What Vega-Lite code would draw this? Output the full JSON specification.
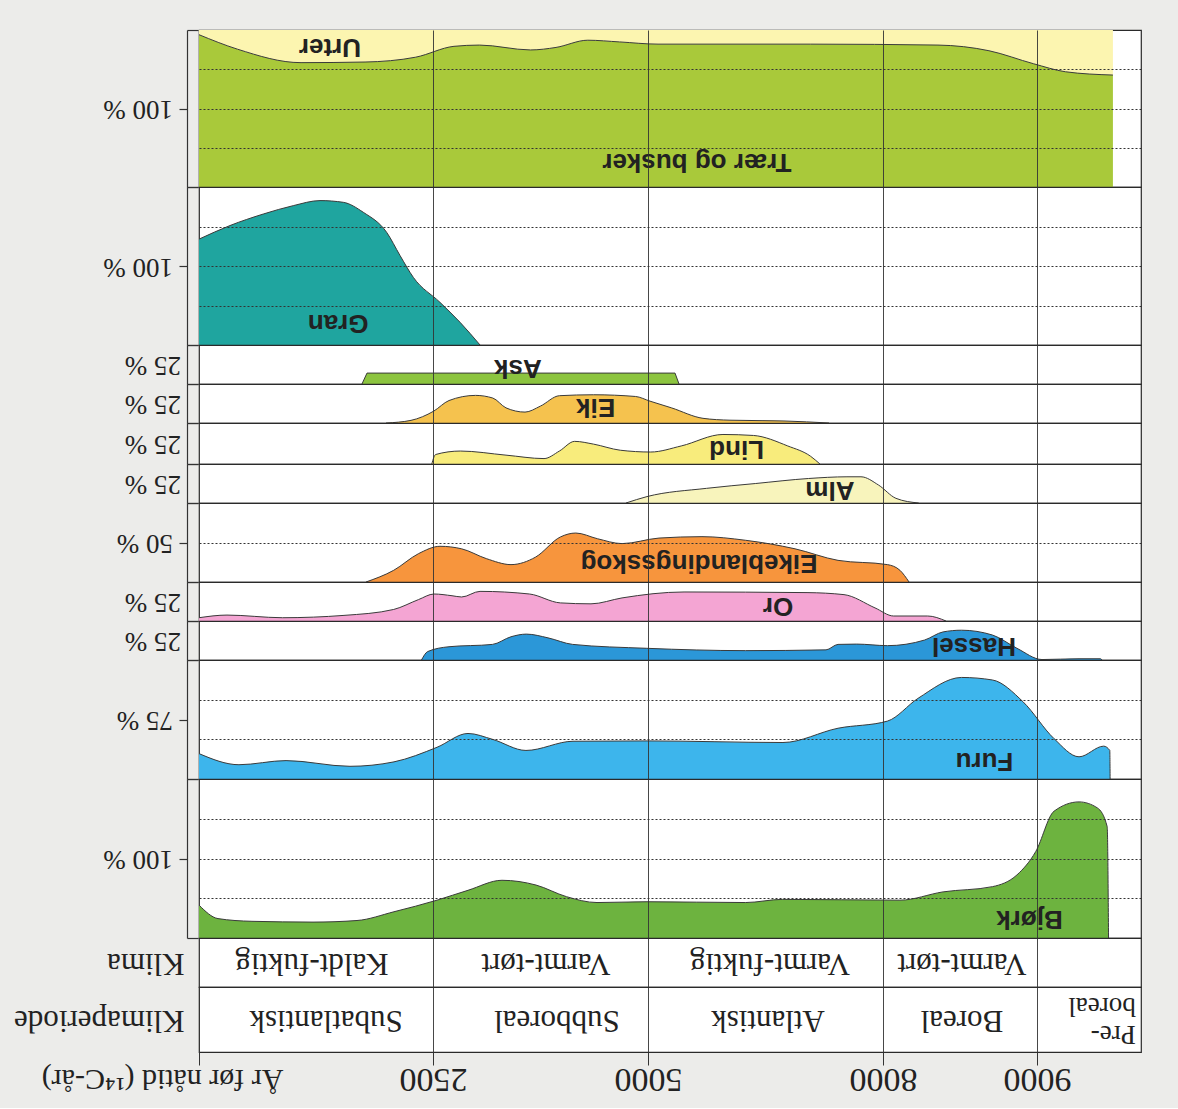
{
  "$schema": "https://vega.github.io/schema/vega-lite/v6.json",
  "background": "#ececea",
  "padding": {"top": 28, "left": 12, "right": 37, "bottom": 12},
  "spacing": 0,
  "bounds": "flush",
  "datasets": {
    "pollen": [
      {"taxon": "Trær og busker", "year": 0, "pct": 97},
      {"taxon": "Trær og busker", "year": 410, "pct": 87.8},
      {"taxon": "Trær og busker", "year": 1090, "pct": 79.2},
      {"taxon": "Trær og busker", "year": 1774, "pct": 79.6},
      {"taxon": "Trær og busker", "year": 2316, "pct": 82.7},
      {"taxon": "Trær og busker", "year": 2744, "pct": 89.6},
      {"taxon": "Trær og busker", "year": 3041, "pct": 90.4},
      {"taxon": "Trær og busker", "year": 3634, "pct": 87.3},
      {"taxon": "Trær og busker", "year": 3930, "pct": 88.9},
      {"taxon": "Trær og busker", "year": 4300, "pct": 93.5},
      {"taxon": "Trær og busker", "year": 4670, "pct": 92.4},
      {"taxon": "Trær og busker", "year": 5128, "pct": 91},
      {"taxon": "Trær og busker", "year": 7077, "pct": 91},
      {"taxon": "Trær og busker", "year": 8357, "pct": 90.4},
      {"taxon": "Trær og busker", "year": 8688, "pct": 86.8},
      {"taxon": "Trær og busker", "year": 8978, "pct": 78.5},
      {"taxon": "Trær og busker", "year": 9274, "pct": 73.4},
      {"taxon": "Trær og busker", "year": 9730, "pct": 71.3},

      {"taxon": "Gran", "year": 0, "pct": 67},
      {"taxon": "Gran", "year": 331, "pct": 75.6},
      {"taxon": "Gran", "year": 687, "pct": 82.9},
      {"taxon": "Gran", "year": 1007, "pct": 88.2},
      {"taxon": "Gran", "year": 1293, "pct": 91.4},
      {"taxon": "Gran", "year": 1542, "pct": 90.3},
      {"taxon": "Gran", "year": 1755, "pct": 84},
      {"taxon": "Gran", "year": 2005, "pct": 71.3},
      {"taxon": "Gran", "year": 2148, "pct": 56.6},
      {"taxon": "Gran", "year": 2290, "pct": 42.8},
      {"taxon": "Gran", "year": 2581, "pct": 27},
      {"taxon": "Gran", "year": 2814, "pct": 14.4},
      {"taxon": "Gran", "year": 3047, "pct": 0},

      {"taxon": "Ask", "year": 1741, "pct": 0},
      {"taxon": "Ask", "year": 1795, "pct": 7},
      {"taxon": "Ask", "year": 5345, "pct": 7},
      {"taxon": "Ask", "year": 5396, "pct": 0},

      {"taxon": "Eik", "year": 1998, "pct": 0},
      {"taxon": "Eik", "year": 2265, "pct": 1.7},
      {"taxon": "Eik", "year": 2508, "pct": 7.6},
      {"taxon": "Eik", "year": 2686, "pct": 14.4},
      {"taxon": "Eik", "year": 2995, "pct": 17.7},
      {"taxon": "Eik", "year": 3195, "pct": 16},
      {"taxon": "Eik", "year": 3349, "pct": 9.7},
      {"taxon": "Eik", "year": 3570, "pct": 7},
      {"taxon": "Eik", "year": 3748, "pct": 10.8},
      {"taxon": "Eik", "year": 3970, "pct": 17.5},
      {"taxon": "Eik", "year": 4368, "pct": 18.1},
      {"taxon": "Eik", "year": 4855, "pct": 17},
      {"taxon": "Eik", "year": 5026, "pct": 14},
      {"taxon": "Eik", "year": 5300, "pct": 9.7},
      {"taxon": "Eik", "year": 5702, "pct": 3},
      {"taxon": "Eik", "year": 6047, "pct": 1.8},
      {"taxon": "Eik", "year": 6736, "pct": 1.3},
      {"taxon": "Eik", "year": 7311, "pct": 0},

      {"taxon": "Lind", "year": 2487, "pct": 0},
      {"taxon": "Lind", "year": 2531, "pct": 5.8},
      {"taxon": "Lind", "year": 2818, "pct": 7.9},
      {"taxon": "Lind", "year": 3349, "pct": 5.4},
      {"taxon": "Lind", "year": 3791, "pct": 3.3},
      {"taxon": "Lind", "year": 3970, "pct": 7.9},
      {"taxon": "Lind", "year": 4147, "pct": 13.8},
      {"taxon": "Lind", "year": 4368, "pct": 12.1},
      {"taxon": "Lind", "year": 4678, "pct": 8.4},
      {"taxon": "Lind", "year": 5034, "pct": 7.3},
      {"taxon": "Lind", "year": 5424, "pct": 11},
      {"taxon": "Lind", "year": 5957, "pct": 18},
      {"taxon": "Lind", "year": 6347, "pct": 17.4},
      {"taxon": "Lind", "year": 6784, "pct": 11},
      {"taxon": "Lind", "year": 7076, "pct": 4.7},
      {"taxon": "Lind", "year": 7195, "pct": 0},

      {"taxon": "Alm", "year": 4744, "pct": 0},
      {"taxon": "Alm", "year": 4988, "pct": 4.1},
      {"taxon": "Alm", "year": 5748, "pct": 9.4},
      {"taxon": "Alm", "year": 6375, "pct": 12.5},
      {"taxon": "Alm", "year": 7048, "pct": 15.7},
      {"taxon": "Alm", "year": 7540, "pct": 16.8},
      {"taxon": "Alm", "year": 7719, "pct": 16.8},
      {"taxon": "Alm", "year": 7943, "pct": 11.5},
      {"taxon": "Alm", "year": 8084, "pct": 3},
      {"taxon": "Alm", "year": 8232, "pct": 0},

      {"taxon": "Eikeblandingsskog", "year": 1784, "pct": 0},
      {"taxon": "Eikeblandingsskog", "year": 2080, "pct": 7.4},
      {"taxon": "Eikeblandingsskog", "year": 2344, "pct": 17.9},
      {"taxon": "Eikeblandingsskog", "year": 2581, "pct": 22.6},
      {"taxon": "Eikeblandingsskog", "year": 2833, "pct": 21},
      {"taxon": "Eikeblandingsskog", "year": 3120, "pct": 14.8},
      {"taxon": "Eikeblandingsskog", "year": 3407, "pct": 11},
      {"taxon": "Eikeblandingsskog", "year": 3694, "pct": 15.8},
      {"taxon": "Eikeblandingsskog", "year": 3981, "pct": 28.5},
      {"taxon": "Eikeblandingsskog", "year": 4160, "pct": 31},
      {"taxon": "Eikeblandingsskog", "year": 4412, "pct": 27.4},
      {"taxon": "Eikeblandingsskog", "year": 4698, "pct": 24.3},
      {"taxon": "Eikeblandingsskog", "year": 5140, "pct": 27.8},
      {"taxon": "Eikeblandingsskog", "year": 5689, "pct": 28.7},
      {"taxon": "Eikeblandingsskog", "year": 6246, "pct": 26.4},
      {"taxon": "Eikeblandingsskog", "year": 6877, "pct": 21},
      {"taxon": "Eikeblandingsskog", "year": 7426, "pct": 13.7},
      {"taxon": "Eikeblandingsskog", "year": 8029, "pct": 11},
      {"taxon": "Eikeblandingsskog", "year": 8110, "pct": 7.4},
      {"taxon": "Eikeblandingsskog", "year": 8169, "pct": 0},

      {"taxon": "Or", "year": 0, "pct": 2.1},
      {"taxon": "Or", "year": 299, "pct": 3.8},
      {"taxon": "Or", "year": 893, "pct": 2.1},
      {"taxon": "Or", "year": 1549, "pct": 3.6},
      {"taxon": "Or", "year": 2080, "pct": 7.4},
      {"taxon": "Or", "year": 2344, "pct": 13.7},
      {"taxon": "Or", "year": 2512, "pct": 17.3},
      {"taxon": "Or", "year": 2721, "pct": 16.2},
      {"taxon": "Or", "year": 2833, "pct": 15.4},
      {"taxon": "Or", "year": 3047, "pct": 19},
      {"taxon": "Or", "year": 3622, "pct": 17.3},
      {"taxon": "Or", "year": 3981, "pct": 11.6},
      {"taxon": "Or", "year": 4337, "pct": 11},
      {"taxon": "Or", "year": 4698, "pct": 14.8},
      {"taxon": "Or", "year": 5460, "pct": 18.6},
      {"taxon": "Or", "year": 7030, "pct": 18.2},
      {"taxon": "Or", "year": 7502, "pct": 16.9},
      {"taxon": "Or", "year": 7898, "pct": 8.4},
      {"taxon": "Or", "year": 8069, "pct": 3.2},
      {"taxon": "Or", "year": 8290, "pct": 3.2},
      {"taxon": "Or", "year": 8409, "pct": 0},

      {"taxon": "Hassel", "year": 2377, "pct": 0},
      {"taxon": "Hassel", "year": 2443, "pct": 5.4},
      {"taxon": "Hassel", "year": 2686, "pct": 8.5},
      {"taxon": "Hassel", "year": 3192, "pct": 10},
      {"taxon": "Hassel", "year": 3407, "pct": 14.9},
      {"taxon": "Hassel", "year": 3586, "pct": 16.6},
      {"taxon": "Hassel", "year": 3837, "pct": 14.2},
      {"taxon": "Hassel", "year": 4124, "pct": 10},
      {"taxon": "Hassel", "year": 4986, "pct": 7.5},
      {"taxon": "Hassel", "year": 6246, "pct": 6},
      {"taxon": "Hassel", "year": 7272, "pct": 6.5},
      {"taxon": "Hassel", "year": 7426, "pct": 10},
      {"taxon": "Hassel", "year": 7664, "pct": 10.2},
      {"taxon": "Hassel", "year": 8029, "pct": 9.2},
      {"taxon": "Hassel", "year": 8270, "pct": 12.8},
      {"taxon": "Hassel", "year": 8390, "pct": 18},
      {"taxon": "Hassel", "year": 8510, "pct": 19.1},
      {"taxon": "Hassel", "year": 8711, "pct": 16},
      {"taxon": "Hassel", "year": 8870, "pct": 7.5},
      {"taxon": "Hassel", "year": 9048, "pct": 0.3},
      {"taxon": "Hassel", "year": 9404, "pct": 0.8},
      {"taxon": "Hassel", "year": 9611, "pct": 0.8},
      {"taxon": "Hassel", "year": 9625, "pct": 0},

      {"taxon": "Furu", "year": 0, "pct": 16},
      {"taxon": "Furu", "year": 427, "pct": 9},
      {"taxon": "Furu", "year": 930, "pct": 11.6},
      {"taxon": "Furu", "year": 1613, "pct": 8},
      {"taxon": "Furu", "year": 2083, "pct": 10.8},
      {"taxon": "Furu", "year": 2547, "pct": 20},
      {"taxon": "Furu", "year": 2907, "pct": 28.7},
      {"taxon": "Furu", "year": 3192, "pct": 25},
      {"taxon": "Furu", "year": 3581, "pct": 18},
      {"taxon": "Furu", "year": 4128, "pct": 23.8},
      {"taxon": "Furu", "year": 4988, "pct": 24},
      {"taxon": "Furu", "year": 6723, "pct": 23},
      {"taxon": "Furu", "year": 7426, "pct": 32},
      {"taxon": "Furu", "year": 8029, "pct": 36.5},
      {"taxon": "Furu", "year": 8227, "pct": 50.8},
      {"taxon": "Furu", "year": 8510, "pct": 64},
      {"taxon": "Furu", "year": 8711, "pct": 62.4},
      {"taxon": "Furu", "year": 8909, "pct": 48.7},
      {"taxon": "Furu", "year": 9163, "pct": 25.5},
      {"taxon": "Furu", "year": 9404, "pct": 14},
      {"taxon": "Furu", "year": 9641, "pct": 20.7},
      {"taxon": "Furu", "year": 9700, "pct": 18},
      {"taxon": "Furu", "year": 9703, "pct": 0},

      {"taxon": "Bjørk", "year": 0, "pct": 20.7},
      {"taxon": "Bjørk", "year": 203, "pct": 12.2},
      {"taxon": "Bjørk", "year": 566, "pct": 10.5},
      {"taxon": "Bjørk", "year": 1218, "pct": 10},
      {"taxon": "Bjørk", "year": 1688, "pct": 11},
      {"taxon": "Bjørk", "year": 2083, "pct": 16.5},
      {"taxon": "Bjørk", "year": 2547, "pct": 23.8},
      {"taxon": "Bjørk", "year": 2907, "pct": 30},
      {"taxon": "Bjørk", "year": 3302, "pct": 36.3},
      {"taxon": "Bjørk", "year": 3698, "pct": 33.3},
      {"taxon": "Bjørk", "year": 4052, "pct": 26},
      {"taxon": "Bjørk", "year": 4407, "pct": 22.3},
      {"taxon": "Bjørk", "year": 4988, "pct": 22.8},
      {"taxon": "Bjørk", "year": 6246, "pct": 22.3},
      {"taxon": "Bjørk", "year": 6718, "pct": 24.3},
      {"taxon": "Bjørk", "year": 8110, "pct": 23.8},
      {"taxon": "Bjørk", "year": 8390, "pct": 29},
      {"taxon": "Bjørk", "year": 8711, "pct": 32.3},
      {"taxon": "Bjørk", "year": 8870, "pct": 39.7},
      {"taxon": "Bjørk", "year": 8992, "pct": 54.4},
      {"taxon": "Bjørk", "year": 9163, "pct": 79.7},
      {"taxon": "Bjørk", "year": 9404, "pct": 85.6},
      {"taxon": "Bjørk", "year": 9581, "pct": 81.8},
      {"taxon": "Bjørk", "year": 9675, "pct": 70},
      {"taxon": "Bjørk", "year": 9688, "pct": 0}
    ],
    "labels": [
      {"taxon": "Trær og busker", "name": "Urter", "year": 1400, "pct": 89},
      {"taxon": "Trær og busker", "name": "Trær og busker", "year": 5625, "pct": 16},
      {"taxon": "Gran", "name": "Gran", "year": 1487, "pct": 13.7},
      {"taxon": "Ask", "name": "Ask", "year": 3488, "pct": 10.1},
      {"taxon": "Eik", "name": "Eik", "year": 4391, "pct": 10.1},
      {"taxon": "Lind", "name": "Lind", "year": 6131, "pct": 9.2},
      {"taxon": "Alm", "name": "Alm", "year": 7323, "pct": 8.5},
      {"taxon": "Eikeblandingsskog", "name": "Eikeblandingsskog", "year": 5651, "pct": 12},
      {"taxon": "Or", "name": "Or", "year": 6660, "pct": 9.5},
      {"taxon": "Hassel", "name": "Hassel", "year": 8591, "pct": 9.2},
      {"taxon": "Furu", "name": "Furu", "year": 8659, "pct": 11.4},
      {"taxon": "Bjørk", "name": "Bjørk", "year": 8951, "pct": 12.2}
    ],
    "klima": [
      {"row": "Klima", "label": "Kaldt-fuktig", "year": 1207},
      {"row": "Klima", "label": "Varmt-tørt", "year": 3814},
      {"row": "Klima", "label": "Varmt-fuktig", "year": 6557},
      {"row": "Klima", "label": "Varmt-tørt", "year": 8512}
    ],
    "periode": [
      {"row": "Klimaperiode", "label": "Subatlantisk", "year": 1357},
      {"row": "Klimaperiode", "label": "Subboreal", "year": 3942},
      {"row": "Klimaperiode", "label": "Atlantisk", "year": 6532},
      {"row": "Klimaperiode", "label": "Boreal", "year": 8512}
    ],
    "preboreal": [
      {"row": "Klimaperiode", "label": "Pre-\nboreal", "year": 9950}
    ]
  },
  "vconcat": [
    {
      "width": 942, "height": 157,
      "resolve": {"scale": {"y": "independent"}, "axis": {"y": "independent"}},
      "layer": [
        {"data": {"name": "pollen"}, "transform": [{"filter": "datum.taxon == 'Trær og busker'"}],
         "mark": {"type": "area", "interpolate": "monotone", "color": "#fcf5b0", "opacity": 1},
         "encoding": {
           "x": {"field": "year", "type": "quantitative", "scale": {"domain": [0, 2500, 5000, 8000, 9000, 10000], "range": [0, 234, 449, 684, 838, 942], "nice": false, "zero": false},
                 "axis": {"title": null, "labels": false, "ticks": false, "domain": false, "grid": true, "values": [2500, 5000, 8000, 9000], "gridColor": "#333", "gridWidth": 0.9, "zindex": 1}},
           "y": {"field": "pct", "type": "quantitative", "scale": {"domain": [0, 100], "nice": false},
                 "axis": {"title": "100 %", "values": [0, 50, 100], "labels": false, "grid": false, "offset": 12, "domain": true, "domainColor": "#333", "domainWidth": 1.2, "ticks": true, "tickColor": "#333", "tickWidth": 1.2,
                          "tickSize": {"condition": {"test": "datum.value == 50", "value": 8}, "value": -11},
                          "titleAngle": 180, "titleAlign": "left", "titleBaseline": "middle", "titleFont": "Liberation Serif", "titleFontSize": 27, "titleFontWeight": "normal", "titleColor": "#222", "titlePadding": 6, "zindex": 1}},
           "y2": {"datum": 100}
         }},
        {"data": {"name": "pollen"}, "transform": [{"filter": "datum.taxon == 'Trær og busker'"}],
         "mark": {"type": "area", "interpolate": "monotone", "color": "#a9c93a", "opacity": 1, "line": {"color": "#3a3a3a", "strokeWidth": 1}},
         "encoding": {"x": {"field": "year", "type": "quantitative"}, "y": {"field": "pct", "type": "quantitative", "scale": {"domain": [0, 100], "nice": false}, "axis": null}}},
        {"data": {"name": "labels"}, "transform": [{"filter": "datum.taxon == 'Trær og busker'"}],
         "mark": {"type": "text", "angle": 180, "font": "Liberation Sans", "fontWeight": "bold", "fontSize": 26, "color": "#222"},
         "encoding": {"x": {"field": "year", "type": "quantitative"}, "text": {"field": "name"},
                      "y": {"field": "pct", "type": "quantitative", "scale": {"domain": [0, 100], "nice": false},
                            "axis": {"orient": "right", "title": null, "labels": false, "ticks": false, "domain": false, "grid": true, "values": [25, 50, 75], "gridColor": "#333", "gridDash": [2, 2], "gridWidth": 1, "zindex": 1}}}}
      ]
    },
    {
      "width": 942, "height": 158,
      "resolve": {"scale": {"y": "independent"}, "axis": {"y": "independent"}},
      "layer": [
        {"data": {"name": "pollen"}, "transform": [{"filter": "datum.taxon == 'Gran'"}],
         "mark": {"type": "area", "interpolate": "monotone", "color": "#1fa59f", "opacity": 1, "line": {"color": "#3a3a3a", "strokeWidth": 1}},
         "encoding": {
           "x": {"field": "year", "type": "quantitative", "scale": {"domain": [0, 2500, 5000, 8000, 9000, 10000], "range": [0, 234, 449, 684, 838, 942], "nice": false, "zero": false},
                 "axis": {"title": null, "labels": false, "ticks": false, "domain": false, "grid": true, "values": [2500, 5000, 8000, 9000], "gridColor": "#333", "gridWidth": 0.9, "zindex": 1}},
           "y": {"field": "pct", "type": "quantitative", "scale": {"domain": [0, 100], "nice": false},
                 "axis": {"title": "100 %", "values": [0, 50, 100], "labels": false, "grid": false, "offset": 12, "domain": true, "domainColor": "#333", "domainWidth": 1.2, "ticks": true, "tickColor": "#333", "tickWidth": 1.2,
                          "tickSize": {"condition": {"test": "datum.value == 50", "value": 8}, "value": -11},
                          "titleAngle": 180, "titleAlign": "left", "titleBaseline": "middle", "titleFont": "Liberation Serif", "titleFontSize": 27, "titleFontWeight": "normal", "titleColor": "#222", "titlePadding": 6, "zindex": 1}}
         }},
        {"data": {"name": "labels"}, "transform": [{"filter": "datum.taxon == 'Gran'"}],
         "mark": {"type": "text", "angle": 180, "font": "Liberation Sans", "fontWeight": "bold", "fontSize": 26, "color": "#222"},
         "encoding": {"x": {"field": "year", "type": "quantitative"}, "text": {"field": "name"},
                      "y": {"field": "pct", "type": "quantitative", "scale": {"domain": [0, 100], "nice": false},
                            "axis": {"orient": "right", "title": null, "labels": false, "ticks": false, "domain": false, "grid": true, "values": [25, 50, 75], "gridColor": "#333", "gridDash": [2, 2], "gridWidth": 1, "zindex": 1}}}}
      ]
    },
    {
      "width": 942, "height": 39,
      "layer": [
        {"data": {"name": "pollen"}, "transform": [{"filter": "datum.taxon == 'Ask'"}],
         "mark": {"type": "area", "interpolate": "linear", "color": "#8cc43f", "opacity": 1, "line": {"color": "#3a3a3a", "strokeWidth": 1}},
         "encoding": {
           "x": {"field": "year", "type": "quantitative", "scale": {"domain": [0, 2500, 5000, 8000, 9000, 10000], "range": [0, 234, 449, 684, 838, 942], "nice": false, "zero": false},
                 "axis": {"title": null, "labels": false, "ticks": false, "domain": false, "grid": true, "values": [2500, 5000, 8000, 9000], "gridColor": "#333", "gridWidth": 0.9, "zindex": 1}},
           "y": {"field": "pct", "type": "quantitative", "scale": {"domain": [0, 25], "nice": false},
                 "axis": {"title": "25 %", "values": [0, 12.5, 25], "labels": false, "grid": false, "offset": 12, "domain": true, "domainColor": "#333", "domainWidth": 1.2, "ticks": true, "tickColor": "#333", "tickWidth": 1.2,
                          "tickSize": {"condition": {"test": "datum.value == 12.5", "value": 8}, "value": -11},
                          "titleAngle": 180, "titleAlign": "left", "titleBaseline": "middle", "titleFont": "Liberation Serif", "titleFontSize": 27, "titleFontWeight": "normal", "titleColor": "#222", "titlePadding": 6, "zindex": 1}}
         }},
        {"data": {"name": "labels"}, "transform": [{"filter": "datum.taxon == 'Ask'"}],
         "mark": {"type": "text", "angle": 180, "font": "Liberation Sans", "fontWeight": "bold", "fontSize": 26, "color": "#222"},
         "encoding": {"x": {"field": "year", "type": "quantitative"}, "y": {"field": "pct", "type": "quantitative"}, "text": {"field": "name"}}}
      ]
    },
    {
      "width": 942, "height": 39,
      "layer": [
        {"data": {"name": "pollen"}, "transform": [{"filter": "datum.taxon == 'Eik'"}],
         "mark": {"type": "area", "interpolate": "monotone", "color": "#f5c24e", "opacity": 1, "line": {"color": "#3a3a3a", "strokeWidth": 1}},
         "encoding": {
           "x": {"field": "year", "type": "quantitative", "scale": {"domain": [0, 2500, 5000, 8000, 9000, 10000], "range": [0, 234, 449, 684, 838, 942], "nice": false, "zero": false},
                 "axis": {"title": null, "labels": false, "ticks": false, "domain": false, "grid": true, "values": [2500, 5000, 8000, 9000], "gridColor": "#333", "gridWidth": 0.9, "zindex": 1}},
           "y": {"field": "pct", "type": "quantitative", "scale": {"domain": [0, 25], "nice": false},
                 "axis": {"title": "25 %", "values": [0, 12.5, 25], "labels": false, "grid": false, "offset": 12, "domain": true, "domainColor": "#333", "domainWidth": 1.2, "ticks": true, "tickColor": "#333", "tickWidth": 1.2,
                          "tickSize": {"condition": {"test": "datum.value == 12.5", "value": 8}, "value": -11},
                          "titleAngle": 180, "titleAlign": "left", "titleBaseline": "middle", "titleFont": "Liberation Serif", "titleFontSize": 27, "titleFontWeight": "normal", "titleColor": "#222", "titlePadding": 6, "zindex": 1}}
         }},
        {"data": {"name": "labels"}, "transform": [{"filter": "datum.taxon == 'Eik'"}],
         "mark": {"type": "text", "angle": 180, "font": "Liberation Sans", "fontWeight": "bold", "fontSize": 26, "color": "#222"},
         "encoding": {"x": {"field": "year", "type": "quantitative"}, "y": {"field": "pct", "type": "quantitative"}, "text": {"field": "name"}}}
      ]
    },
    {
      "width": 942, "height": 41,
      "layer": [
        {"data": {"name": "pollen"}, "transform": [{"filter": "datum.taxon == 'Lind'"}],
         "mark": {"type": "area", "interpolate": "monotone", "color": "#f8ec7c", "opacity": 1, "line": {"color": "#3a3a3a", "strokeWidth": 1}},
         "encoding": {
           "x": {"field": "year", "type": "quantitative", "scale": {"domain": [0, 2500, 5000, 8000, 9000, 10000], "range": [0, 234, 449, 684, 838, 942], "nice": false, "zero": false},
                 "axis": {"title": null, "labels": false, "ticks": false, "domain": false, "grid": true, "values": [2500, 5000, 8000, 9000], "gridColor": "#333", "gridWidth": 0.9, "zindex": 1}},
           "y": {"field": "pct", "type": "quantitative", "scale": {"domain": [0, 25], "nice": false},
                 "axis": {"title": "25 %", "values": [0, 12.5, 25], "labels": false, "grid": false, "offset": 12, "domain": true, "domainColor": "#333", "domainWidth": 1.2, "ticks": true, "tickColor": "#333", "tickWidth": 1.2,
                          "tickSize": {"condition": {"test": "datum.value == 12.5", "value": 8}, "value": -11},
                          "titleAngle": 180, "titleAlign": "left", "titleBaseline": "middle", "titleFont": "Liberation Serif", "titleFontSize": 27, "titleFontWeight": "normal", "titleColor": "#222", "titlePadding": 6, "zindex": 1}}
         }},
        {"data": {"name": "labels"}, "transform": [{"filter": "datum.taxon == 'Lind'"}],
         "mark": {"type": "text", "angle": 180, "font": "Liberation Sans", "fontWeight": "bold", "fontSize": 26, "color": "#222"},
         "encoding": {"x": {"field": "year", "type": "quantitative"}, "y": {"field": "pct", "type": "quantitative"}, "text": {"field": "name"}}}
      ]
    },
    {
      "width": 942, "height": 39,
      "layer": [
        {"data": {"name": "pollen"}, "transform": [{"filter": "datum.taxon == 'Alm'"}],
         "mark": {"type": "area", "interpolate": "monotone", "color": "#f8f4bc", "opacity": 1, "line": {"color": "#3a3a3a", "strokeWidth": 1}},
         "encoding": {
           "x": {"field": "year", "type": "quantitative", "scale": {"domain": [0, 2500, 5000, 8000, 9000, 10000], "range": [0, 234, 449, 684, 838, 942], "nice": false, "zero": false},
                 "axis": {"title": null, "labels": false, "ticks": false, "domain": false, "grid": true, "values": [2500, 5000, 8000, 9000], "gridColor": "#333", "gridWidth": 0.9, "zindex": 1}},
           "y": {"field": "pct", "type": "quantitative", "scale": {"domain": [0, 25], "nice": false},
                 "axis": {"title": "25 %", "values": [0, 12.5, 25], "labels": false, "grid": false, "offset": 12, "domain": true, "domainColor": "#333", "domainWidth": 1.2, "ticks": true, "tickColor": "#333", "tickWidth": 1.2,
                          "tickSize": {"condition": {"test": "datum.value == 12.5", "value": 8}, "value": -11},
                          "titleAngle": 180, "titleAlign": "left", "titleBaseline": "middle", "titleFont": "Liberation Serif", "titleFontSize": 27, "titleFontWeight": "normal", "titleColor": "#222", "titlePadding": 6, "zindex": 1}}
         }},
        {"data": {"name": "labels"}, "transform": [{"filter": "datum.taxon == 'Alm'"}],
         "mark": {"type": "text", "angle": 180, "font": "Liberation Sans", "fontWeight": "bold", "fontSize": 26, "color": "#222"},
         "encoding": {"x": {"field": "year", "type": "quantitative"}, "y": {"field": "pct", "type": "quantitative"}, "text": {"field": "name"}}}
      ]
    },
    {
      "width": 942, "height": 79,
      "resolve": {"scale": {"y": "independent"}, "axis": {"y": "independent"}},
      "layer": [
        {"data": {"name": "pollen"}, "transform": [{"filter": "datum.taxon == 'Eikeblandingsskog'"}],
         "mark": {"type": "area", "interpolate": "monotone", "color": "#f7953d", "opacity": 1, "line": {"color": "#3a3a3a", "strokeWidth": 1}},
         "encoding": {
           "x": {"field": "year", "type": "quantitative", "scale": {"domain": [0, 2500, 5000, 8000, 9000, 10000], "range": [0, 234, 449, 684, 838, 942], "nice": false, "zero": false},
                 "axis": {"title": null, "labels": false, "ticks": false, "domain": false, "grid": true, "values": [2500, 5000, 8000, 9000], "gridColor": "#333", "gridWidth": 0.9, "zindex": 1}},
           "y": {"field": "pct", "type": "quantitative", "scale": {"domain": [0, 50], "nice": false},
                 "axis": {"title": "50 %", "values": [0, 25, 50], "labels": false, "grid": false, "offset": 12, "domain": true, "domainColor": "#333", "domainWidth": 1.2, "ticks": true, "tickColor": "#333", "tickWidth": 1.2,
                          "tickSize": {"condition": {"test": "datum.value == 25", "value": 8}, "value": -11},
                          "titleAngle": 180, "titleAlign": "left", "titleBaseline": "middle", "titleFont": "Liberation Serif", "titleFontSize": 27, "titleFontWeight": "normal", "titleColor": "#222", "titlePadding": 6, "zindex": 1}}
         }},
        {"data": {"name": "labels"}, "transform": [{"filter": "datum.taxon == 'Eikeblandingsskog'"}],
         "mark": {"type": "text", "angle": 180, "font": "Liberation Sans", "fontWeight": "bold", "fontSize": 26, "color": "#222"},
         "encoding": {"x": {"field": "year", "type": "quantitative"}, "text": {"field": "name"},
                      "y": {"field": "pct", "type": "quantitative", "scale": {"domain": [0, 50], "nice": false},
                            "axis": {"orient": "right", "title": null, "labels": false, "ticks": false, "domain": false, "grid": true, "values": [25], "gridColor": "#333", "gridDash": [2, 2], "gridWidth": 1, "zindex": 1}}}}
      ]
    },
    {
      "width": 942, "height": 39,
      "layer": [
        {"data": {"name": "pollen"}, "transform": [{"filter": "datum.taxon == 'Or'"}],
         "mark": {"type": "area", "interpolate": "monotone", "color": "#f4a5d3", "opacity": 1, "line": {"color": "#3a3a3a", "strokeWidth": 1}},
         "encoding": {
           "x": {"field": "year", "type": "quantitative", "scale": {"domain": [0, 2500, 5000, 8000, 9000, 10000], "range": [0, 234, 449, 684, 838, 942], "nice": false, "zero": false},
                 "axis": {"title": null, "labels": false, "ticks": false, "domain": false, "grid": true, "values": [2500, 5000, 8000, 9000], "gridColor": "#333", "gridWidth": 0.9, "zindex": 1}},
           "y": {"field": "pct", "type": "quantitative", "scale": {"domain": [0, 25], "nice": false},
                 "axis": {"title": "25 %", "values": [0, 12.5, 25], "labels": false, "grid": false, "offset": 12, "domain": true, "domainColor": "#333", "domainWidth": 1.2, "ticks": true, "tickColor": "#333", "tickWidth": 1.2,
                          "tickSize": {"condition": {"test": "datum.value == 12.5", "value": 8}, "value": -11},
                          "titleAngle": 180, "titleAlign": "left", "titleBaseline": "middle", "titleFont": "Liberation Serif", "titleFontSize": 27, "titleFontWeight": "normal", "titleColor": "#222", "titlePadding": 6, "zindex": 1}}
         }},
        {"data": {"name": "labels"}, "transform": [{"filter": "datum.taxon == 'Or'"}],
         "mark": {"type": "text", "angle": 180, "font": "Liberation Sans", "fontWeight": "bold", "fontSize": 26, "color": "#222"},
         "encoding": {"x": {"field": "year", "type": "quantitative"}, "y": {"field": "pct", "type": "quantitative"}, "text": {"field": "name"}}}
      ]
    },
    {
      "width": 942, "height": 39,
      "layer": [
        {"data": {"name": "pollen"}, "transform": [{"filter": "datum.taxon == 'Hassel'"}],
         "mark": {"type": "area", "interpolate": "monotone", "color": "#2b97d8", "opacity": 1, "line": {"color": "#3a3a3a", "strokeWidth": 1}},
         "encoding": {
           "x": {"field": "year", "type": "quantitative", "scale": {"domain": [0, 2500, 5000, 8000, 9000, 10000], "range": [0, 234, 449, 684, 838, 942], "nice": false, "zero": false},
                 "axis": {"title": null, "labels": false, "ticks": false, "domain": false, "grid": true, "values": [2500, 5000, 8000, 9000], "gridColor": "#333", "gridWidth": 0.9, "zindex": 1}},
           "y": {"field": "pct", "type": "quantitative", "scale": {"domain": [0, 25], "nice": false},
                 "axis": {"title": "25 %", "values": [0, 12.5, 25], "labels": false, "grid": false, "offset": 12, "domain": true, "domainColor": "#333", "domainWidth": 1.2, "ticks": true, "tickColor": "#333", "tickWidth": 1.2,
                          "tickSize": {"condition": {"test": "datum.value == 12.5", "value": 8}, "value": -11},
                          "titleAngle": 180, "titleAlign": "left", "titleBaseline": "middle", "titleFont": "Liberation Serif", "titleFontSize": 27, "titleFontWeight": "normal", "titleColor": "#222", "titlePadding": 6, "zindex": 1}}
         }},
        {"data": {"name": "labels"}, "transform": [{"filter": "datum.taxon == 'Hassel'"}],
         "mark": {"type": "text", "angle": 180, "font": "Liberation Sans", "fontWeight": "bold", "fontSize": 26, "color": "#222"},
         "encoding": {"x": {"field": "year", "type": "quantitative"}, "y": {"field": "pct", "type": "quantitative"}, "text": {"field": "name"}}}
      ]
    },
    {
      "width": 942, "height": 119,
      "resolve": {"scale": {"y": "independent"}, "axis": {"y": "independent"}},
      "layer": [
        {"data": {"name": "pollen"}, "transform": [{"filter": "datum.taxon == 'Furu'"}],
         "mark": {"type": "area", "interpolate": "monotone", "color": "#3db5ec", "opacity": 1, "line": {"color": "#3a3a3a", "strokeWidth": 1}},
         "encoding": {
           "x": {"field": "year", "type": "quantitative", "scale": {"domain": [0, 2500, 5000, 8000, 9000, 10000], "range": [0, 234, 449, 684, 838, 942], "nice": false, "zero": false},
                 "axis": {"title": null, "labels": false, "ticks": false, "domain": false, "grid": true, "values": [2500, 5000, 8000, 9000], "gridColor": "#333", "gridWidth": 0.9, "zindex": 1}},
           "y": {"field": "pct", "type": "quantitative", "scale": {"domain": [0, 75], "nice": false},
                 "axis": {"title": "75 %", "values": [0, 37.5, 75], "labels": false, "grid": false, "offset": 12, "domain": true, "domainColor": "#333", "domainWidth": 1.2, "ticks": true, "tickColor": "#333", "tickWidth": 1.2,
                          "tickSize": {"condition": {"test": "datum.value == 37.5", "value": 8}, "value": -11},
                          "titleAngle": 180, "titleAlign": "left", "titleBaseline": "middle", "titleFont": "Liberation Serif", "titleFontSize": 27, "titleFontWeight": "normal", "titleColor": "#222", "titlePadding": 6, "zindex": 1}}
         }},
        {"data": {"name": "labels"}, "transform": [{"filter": "datum.taxon == 'Furu'"}],
         "mark": {"type": "text", "angle": 180, "font": "Liberation Sans", "fontWeight": "bold", "fontSize": 26, "color": "#222"},
         "encoding": {"x": {"field": "year", "type": "quantitative"}, "text": {"field": "name"},
                      "y": {"field": "pct", "type": "quantitative", "scale": {"domain": [0, 75], "nice": false},
                            "axis": {"orient": "right", "title": null, "labels": false, "ticks": false, "domain": false, "grid": true, "values": [25, 50], "gridColor": "#333", "gridDash": [2, 2], "gridWidth": 1, "zindex": 1}}}}
      ]
    },
    {
      "width": 942, "height": 159,
      "resolve": {"scale": {"y": "independent"}, "axis": {"y": "independent"}},
      "layer": [
        {"data": {"name": "pollen"}, "transform": [{"filter": "datum.taxon == 'Bjørk'"}],
         "mark": {"type": "area", "interpolate": "monotone", "color": "#6db33f", "opacity": 1, "line": {"color": "#3a3a3a", "strokeWidth": 1}},
         "encoding": {
           "x": {"field": "year", "type": "quantitative", "scale": {"domain": [0, 2500, 5000, 8000, 9000, 10000], "range": [0, 234, 449, 684, 838, 942], "nice": false, "zero": false},
                 "axis": {"title": null, "labels": false, "ticks": false, "domain": false, "grid": true, "values": [2500, 5000, 8000, 9000], "gridColor": "#333", "gridWidth": 0.9, "zindex": 1}},
           "y": {"field": "pct", "type": "quantitative", "scale": {"domain": [0, 100], "nice": false},
                 "axis": {"title": "100 %", "values": [0, 50, 100], "labels": false, "grid": false, "offset": 12, "domain": true, "domainColor": "#333", "domainWidth": 1.2, "ticks": true, "tickColor": "#333", "tickWidth": 1.2,
                          "tickSize": {"condition": {"test": "datum.value == 50", "value": 8}, "value": -11},
                          "titleAngle": 180, "titleAlign": "left", "titleBaseline": "middle", "titleFont": "Liberation Serif", "titleFontSize": 27, "titleFontWeight": "normal", "titleColor": "#222", "titlePadding": 6, "zindex": 1}}
         }},
        {"data": {"name": "labels"}, "transform": [{"filter": "datum.taxon == 'Bjørk'"}],
         "mark": {"type": "text", "angle": 180, "font": "Liberation Sans", "fontWeight": "bold", "fontSize": 26, "color": "#222"},
         "encoding": {"x": {"field": "year", "type": "quantitative"}, "text": {"field": "name"},
                      "y": {"field": "pct", "type": "quantitative", "scale": {"domain": [0, 100], "nice": false},
                            "axis": {"orient": "right", "title": null, "labels": false, "ticks": false, "domain": false, "grid": true, "values": [25, 50, 75], "gridColor": "#333", "gridDash": [2, 2], "gridWidth": 1, "zindex": 1}}}}
      ]
    },
    {
      "width": 942, "height": 49,
      "data": {"name": "klima"},
      "mark": {"type": "text", "angle": 180, "font": "Liberation Serif", "fontSize": 31, "color": "#222"},
      "encoding": {
        "x": {"field": "year", "type": "quantitative", "scale": {"domain": [0, 2500, 5000, 8000, 9000, 10000], "range": [0, 234, 449, 684, 838, 942], "nice": false, "zero": false},
              "axis": {"title": null, "labels": false, "ticks": false, "domain": false, "grid": true, "values": [2500, 5000, 8000, 9000], "gridColor": "#333", "gridWidth": 0.9, "zindex": 1}},
        "y": {"field": "row", "type": "nominal",
              "axis": {"title": null, "ticks": false, "domain": false, "labelAngle": 180, "labelAlign": "left", "labelBaseline": "middle", "labelFont": "Liberation Serif", "labelFontSize": 31, "labelColor": "#222", "labelPadding": 15}},
        "text": {"field": "label"}
      }
    },
    {
      "width": 942, "height": 65,
      "layer": [
        {"data": {"name": "periode"},
         "mark": {"type": "text", "angle": 180, "font": "Liberation Serif", "fontSize": 31, "color": "#222"},
         "encoding": {
           "x": {"field": "year", "type": "quantitative", "scale": {"domain": [0, 2500, 5000, 8000, 9000, 10000], "range": [0, 234, 449, 684, 838, 942], "nice": false, "zero": false},
                 "axis": {"title": "År før nåtid (¹⁴C-år)", "values": [0, 2500, 5000, 8000, 9000], "format": "d", "labelExpr": "datum.value == 0 ? '' : datum.label",
                          "grid": true, "gridColor": "#333", "gridWidth": 0.9, "domain": false, "ticks": true, "tickSize": 13, "tickColor": "#333",
                          "labelAngle": 180, "labelAlign": "center", "labelBaseline": "bottom", "labelPadding": -4, "labelFont": "Liberation Serif", "labelFontSize": 34, "labelColor": "#222", "labelFlush": false, "labelOverlap": false,
                          "titleAngle": 180, "titleFont": "Liberation Serif", "titleFontSize": 30, "titleFontWeight": "normal", "titleColor": "#222", "titleAlign": "left", "titleBaseline": "middle", "titleX": 84, "titleY": 26, "zindex": 1}},
           "y": {"field": "row", "type": "nominal",
                 "axis": {"title": null, "ticks": false, "domain": false, "labelAngle": 180, "labelAlign": "left", "labelBaseline": "middle", "labelFont": "Liberation Serif", "labelFontSize": 31, "labelColor": "#222", "labelPadding": 15}},
           "text": {"field": "label"}
         }},
        {"data": {"name": "preboreal"},
         "mark": {"type": "text", "angle": 180, "align": "left", "baseline": "middle", "lineBreak": "\n", "lineHeight": 28, "dy": -14, "font": "Liberation Serif", "fontSize": 27, "color": "#222"},
         "encoding": {
           "x": {"field": "year", "type": "quantitative"},
           "y": {"field": "row", "type": "nominal"},
           "text": {"field": "label"}
         }}
      ]
    }
  ],
  "config": {
    "view": {"stroke": "#2a2a2a", "strokeWidth": 1.2, "fill": "white"}
  }
}
